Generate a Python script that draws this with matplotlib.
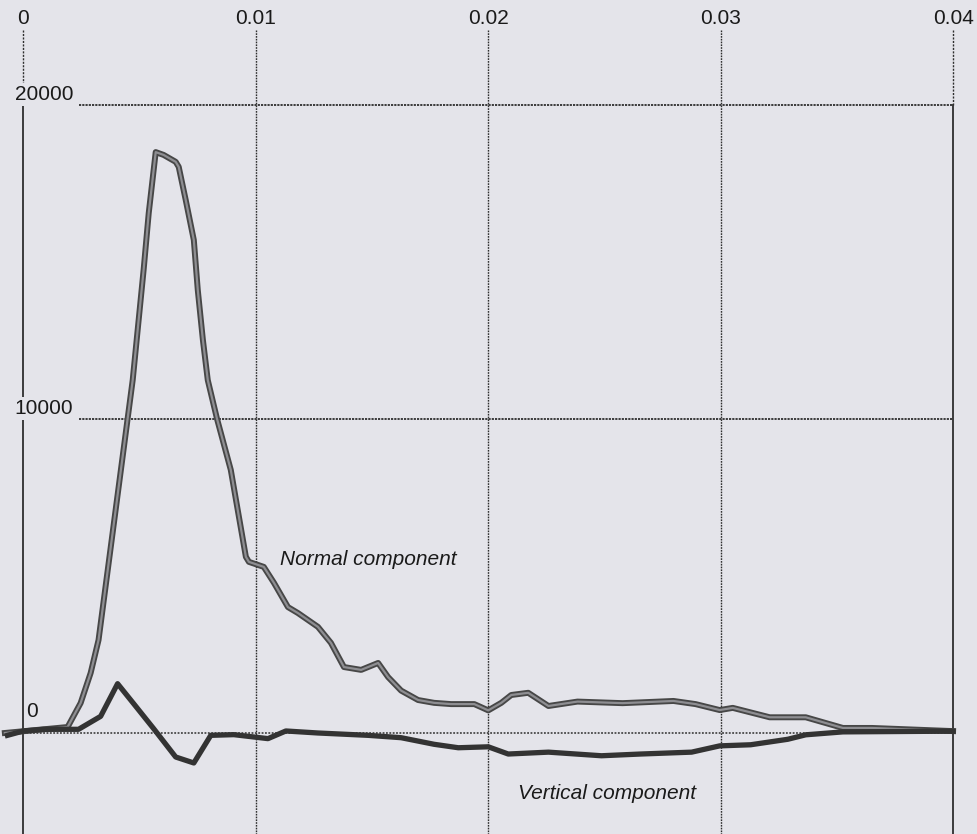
import matplotlib
matplotlib.use("Agg")
import matplotlib.pyplot as plt

plt.rcParams['font.family'] = ['Liberation Sans', 'DejaVu Sans']

# Tiempo (s) y amplitud de cada componente
normal_t = [-0.0008, 0.0019, 0.00246, 0.00289, 0.00323, 0.0047, 0.00517, 0.00539,
            0.00569, 0.00603, 0.00655, 0.00668, 0.00698, 0.00733, 0.0075, 0.00772,
            0.00793, 0.00833, 0.00892, 0.00922, 0.00957, 0.0097, 0.01034, 0.01078,
            0.01138, 0.01181, 0.01267, 0.01323, 0.01379, 0.01453, 0.01526, 0.01569,
            0.01625, 0.01698, 0.01767, 0.0184, 0.0194, 0.02, 0.02056, 0.02099,
            0.02172, 0.02259, 0.02384, 0.02578, 0.02797, 0.02892, 0.02996, 0.03052,
            0.03211, 0.03366, 0.03526, 0.03651, 0.04]
normal_v = [0, 190, 955, 1910, 2960, 11240, 14750, 16560,
            18500, 18410, 18190, 18030, 16980, 15700, 14110, 12520,
            11240, 10000, 8380, 7100, 5610, 5450, 5290, 4780,
            4010, 3820, 3380, 2870, 2100, 2010, 2230, 1780,
            1350, 1050, 960, 920, 920, 720, 960, 1210,
            1280, 860, 1000, 950, 1020, 920, 730, 800,
            500, 500, 160, 160, 60]

vertical_t = [-0.00069, 0, 0.00086, 0.00237, 0.00332, 0.00405, 0.00474, 0.0056,
              0.00655, 0.00733, 0.00806, 0.00905, 0.01052, 0.01129, 0.01267, 0.01483,
              0.01625, 0.01767, 0.01871, 0.02, 0.02086, 0.02259, 0.02487, 0.02655,
              0.02875, 0.02996, 0.03129, 0.03289, 0.03366, 0.03526, 0.04]
vertical_v = [-75, 64, 117, 117, 530, 1570, 935, 140,
              -765, -955, -75, -53, -180, 64, 0, -75,
              -150, -360, -470, -440, -670, -610, -725, -670,
              -610, -410, -375, -200, -58, 35, 58]

x_ticks = [0, 0.01, 0.02, 0.03, 0.04]
x_labels = ["0", "0.01", "0.02", "0.03", "0.04"]
y_levels = [20000, 10000]
y_labels = ["20000", "10000"]

fondo = '#e4e4ea'
tinta = '#2e2e2e'

fig = plt.figure(figsize=(9.77, 8.34), dpi=100, facecolor=fondo)
ax = fig.add_axes([0, 0, 1, 1], facecolor=fondo)
ax.set_xlim(-0.00101, 0.04103)
ax.set_ylim(-3217, 23344)
ax.axis('off')

top = 22390
bottom = -3217

# Rejilla vertical
for xt in x_ticks:
    if xt in (0, 0.04):
        ax.plot([xt, xt], [top, 20000], color=tinta, lw=1.0, ls=(0, (1.5, 1)))
        ax.plot([xt, xt], [20000, bottom], color=tinta, lw=1.3)
    else:
        ax.plot([xt, xt], [top, bottom], color=tinta, lw=1.0, ls=(0, (1.2, 0.8)))

# Rejilla horizontal
for yl in y_levels:
    ax.plot([0.0024, 0.04], [yl, yl], color=tinta, lw=1.3, ls=(0, (1.2, 0.6)))
ax.plot([0, 0.04], [0, 0], color=tinta, lw=1.1, ls=(0, (1.2, 1)))

# Etiquetas de ejes
for xt, lab in zip(x_ticks, x_labels):
    ax.text(xt, 22770, lab, ha='center', va='center', fontsize=15, color='#1a1a1a')
for yl, lab in zip(y_levels, y_labels):
    ax.text(-0.00037, yl + 330, lab, ha='left', va='center', fontsize=15, color='#1a1a1a',
            bbox=dict(facecolor=fondo, edgecolor='none', pad=1.5))
ax.text(0.00037, 670, "0", ha='center', va='center', fontsize=15, color='#1a1a1a')

# Curvas
ax.plot(normal_t, normal_v, color='#474747', lw=4.3, solid_joinstyle='round', zorder=3)
ax.plot(normal_t, normal_v, color='#8e8e92', lw=1.6, solid_joinstyle='round', zorder=4)
ax.plot(vertical_t, vertical_v, color='#333333', lw=3.8, solid_joinstyle='round', zorder=5)

ax.text(0.01104, 5510, "Normal component", ha='left', va='center', fontsize=15,
        style='italic', color='#1a1a1a')
ax.text(0.02128, -1943, "Vertical component", ha='left', va='center', fontsize=15,
        style='italic', color='#1a1a1a')

fig.savefig("out.png", dpi=100, facecolor=fondo)
